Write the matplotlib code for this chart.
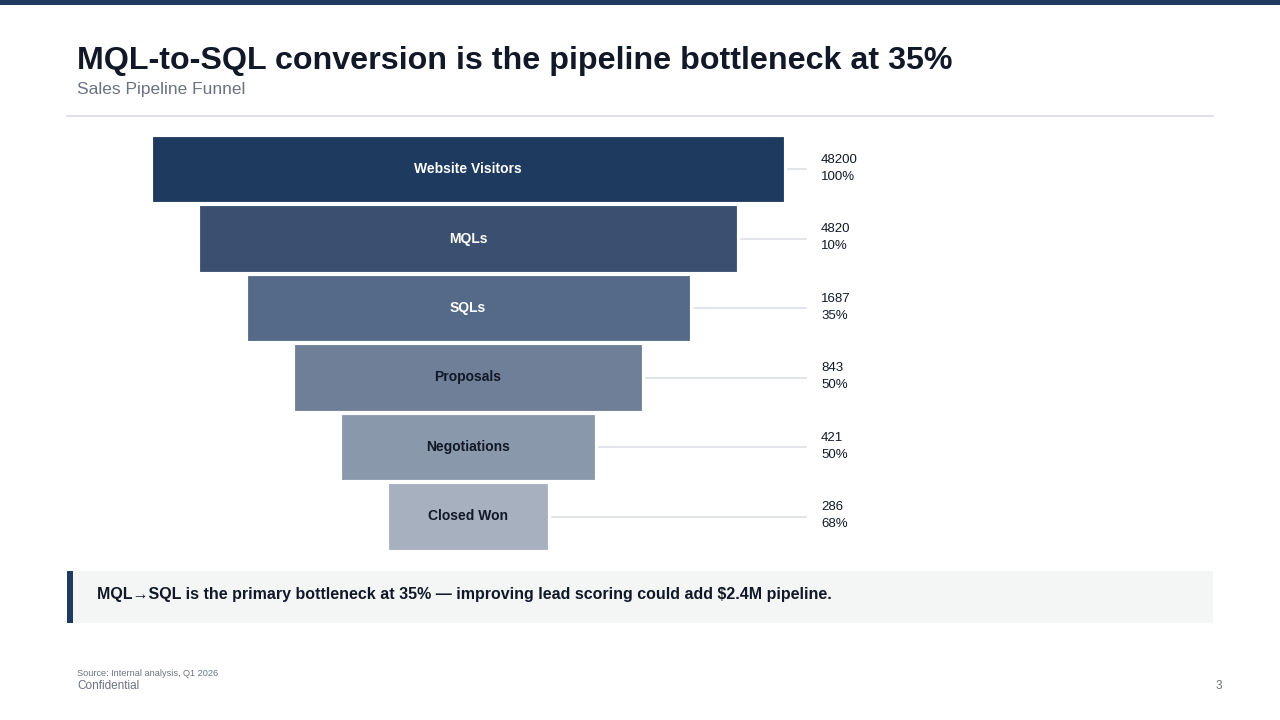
import matplotlib
matplotlib.use("Agg")
import matplotlib.pyplot as plt
from matplotlib.patches import Rectangle

plt.rcParams['font.family'] = ['Liberation Sans', 'DejaVu Sans']

# ---- data ----
stages = ["Website Visitors", "MQLs", "SQLs", "Proposals", "Negotiations", "Closed Won"]
counts = [48200, 4820, 1687, 843, 421, 286]
conv_pct = [100, 10, 35, 50, 50, 68]
bar_colors = ["#1e3a5f", "#3b5070", "#556a88", "#6e7f97", "#8a98ab", "#a6b0be"]
label_colors = ["white", "white", "white", "#111827", "#111827", "#111827"]

title = "MQL-to-SQL conversion is the pipeline bottleneck at 35%"
subtitle = "Sales Pipeline Funnel"
callout = "MQL\u2192SQL is the primary bottleneck at 35% \u2014 improving lead scoring could add $2.4M pipeline."
source = "Source: Internal analysis, Q1 2026"
footer_left = "Confidential"
page_no = "3"

W, H = 1280, 720
fig = plt.figure(figsize=(12.8, 7.2), dpi=100)
fig.patch.set_facecolor("white")

# overlay axes in pixel coordinates for decoration
deco = fig.add_axes([0, 0, 1, 1])
deco.set_xlim(0, W)
deco.set_ylim(H, 0)
deco.axis("off")

navy = "#1e3a5f"
deco.add_patch(Rectangle((0, 0), W, 5, color=navy, lw=0))
deco.plot([67, 1213], [116, 116], color="#d9dce1", lw=1.2)

deco.text(77, 69.5, title, fontsize=23.2, fontweight="bold", color="#111827", va="baseline", ha="left")
deco.text(77, 94, subtitle, fontsize=12.5, color="#6b7280", va="baseline", ha="left")

# callout
deco.add_patch(Rectangle((67, 571), 1146, 52, facecolor="#f4f6f6", lw=0))
deco.add_patch(Rectangle((67, 571), 6, 52, facecolor=navy, lw=0))
deco.text(97, 594, callout, fontsize=11.5, fontweight="bold", color="#111827", va="center", ha="left")

deco.text(77, 673, source, fontsize=6.6, color="#6b7280", va="center", ha="left")
deco.text(77, 686, footer_left, fontsize=8.5, color="#6b7280", va="center", ha="left")
deco.text(1222, 686, page_no, fontsize=8.5, color="#6b7280", va="center", ha="right")

# funnel axes: x in units of the widest bar, centred at 0; y = stage index
cx, scale = 468.0, 630.0
y0, pitch = 169.0, 69.5
ax_l, ax_r, ax_t, ax_b = 100, 900, 130, 556
ax = fig.add_axes([ax_l / W, 1 - ax_b / H, (ax_r - ax_l) / W, (ax_b - ax_t) / H])
ax.set_xlim((ax_l - cx) / scale, (ax_r - cx) / scale)
ax.set_ylim((ax_b - y0) / pitch, (ax_t - y0) / pitch)
ax.axis("off")

idx = list(range(len(stages)))
widths = [1 - 0.15 * i for i in idx]
lefts = [-w / 2 for w in widths]
bars = ax.barh(idx, widths, left=lefts, height=0.935, color=bar_colors,
               edgecolor=bar_colors, linewidth=0.6)
for b in bars:
    b.set_joinstyle("round")

line_end = (806 - cx) / scale
text_x = (821 - cx) / scale
gap = 5 / scale
for i, (name, w, c, p, lc) in enumerate(zip(stages, widths, counts, conv_pct, label_colors)):
    ax.text(0, i, name, ha="center", va="center", fontsize=10, fontweight="bold", color=lc)
    ax.plot([w / 2 + gap, line_end], [i, i], color="#d9dde3", lw=1.1)
    ax.text(text_x, i - 0.135, f"{c}", ha="left", va="center", fontsize=9.5, color="#111827")
    ax.text(text_x, i + 0.115, f"{p}%", ha="left", va="center", fontsize=9.5, color="#111827")

fig.savefig("out.png", dpi=100, facecolor="white")
